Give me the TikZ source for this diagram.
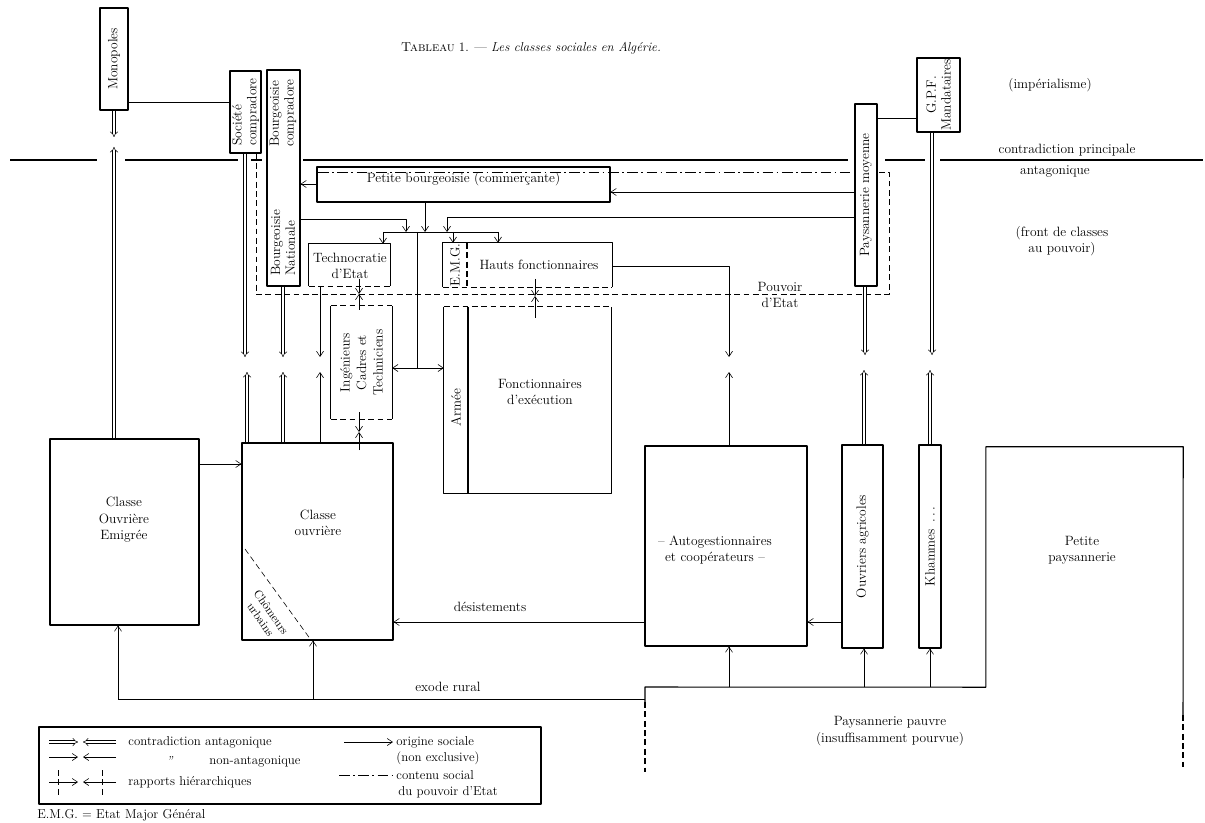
\documentclass[tikz,border=0pt]{standalone}
\usetikzlibrary{arrows.meta,fit}
\begin{document}
\begin{tikzpicture}[x=0.03cm,y=-0.03cm,line join=round,
  lbl/.style={font=\fontsize{11.5}{14}\selectfont,align=center,inner sep=1pt},
  leg/.style={font=\fontsize{11}{13}\selectfont,anchor=west,inner sep=1pt},
  rot/.style={lbl,rotate=90},
  serre/.style={font=\fontsize{11.5}{12.5}\selectfont},
  box/.style={draw,line width=0.9pt,inner sep=0pt},
  zone/.style={inner sep=0pt},
  bord/.style={line width=0.9pt},
  fin/.style={line width=0.5pt},
  tiret/.style={fin,dash pattern=on 5pt off 3pt},
  tiretbord/.style={bord,dash pattern=on 5pt off 3pt},
  tiretpt/.style={fin,dash pattern=on 9pt off 3pt on 1.5pt off 3pt},
  orig/.style={fin,-{Straight Barb[length=4.5pt,width=6pt]}},
  anta/.style={double,double distance=2pt,line width=0.45pt,-{Implies[length=5pt,width=8pt]}},
  front/.style={line width=1.8pt}]
\useasboundingbox (0,0) rectangle (1205,823);
\node[font=\fontsize{11}{13}\selectfont] (titre) at (531,48) {\textsc{Tableau} 1. --- \textit{Les classes sociales en Algérie.}};
% ligne de front
\foreach \a/\b in {10/97,125/238,251/262,303/848,885/925,940/1203}
  \draw[front] (\a,160) -- (\b,160);
% groupes
\node[box,fit={(100,8)(128,110)}] (mono) {};
\node[rot] (tmono) at (mono) {Monopoles};
\node[box,fit={(230,71)(261,153)}] (soc) {};
\node[rot,serre,align=left] (tsoc) at (soc) {Société\\compradore};
\node[box,fit={(267,70)(300,286)}] (bourg) {};
\node[rot,serre,align=left] (tbc) at (283,113) {Bourgeoisie\\compradore};
\node[rot,serre,align=left] (tbn) at (283,243) {Bourgeoisie\\Nationale};
\node[lbl,box,fit={(317,167)(610,202)}] (pb) {Petite bourgeoisie (commerçante)};
\node[zone,fit={(309,244)(390,286)}] (techno) {};
\draw[bord] (techno.south west) |- (techno.north east) -- (techno.south east);
\draw[tiretbord] (techno.south west) -- (techno.south east);
\node[lbl] (ttechno) at (350,266) {Technocratie\\d'Etat};
\node[zone,fit={(443,243)(612,287)}] (hf) {};
\draw[bord] (hf.south west) |- (hf.north east) -- (hf.south east);
\draw[tiretbord] (hf.south west) -- (hf.south east) (467,243) -- (467,287);
\node[rot] (temg) at (455,265) {E.M.G.};
\node[lbl] (thf) at (539,265) {Hauts fonctionnaires};
\node[zone,fit={(331,306)(392,419)}] (ict) {};
\draw[bord] (ict.north west) -- (ict.south west) (ict.north east) -- (ict.south east);
\draw[tiretbord] (ict.north west) -- (ict.north east) (ict.south west) -- (ict.south east);
\node[rot] (tict) at (ict) {Ingénieurs\\Cadres et\\Techniciens};
\node[zone,fit={(444,307)(611,493)}] (arm) {};
\draw[bord] (arm.north west) |- (arm.south east) -- (arm.north east) (468,307) -- (468,493);
\draw[tiretbord] (arm.north west) -- (arm.north east);
\node[rot] (tarm) at (456,408) {Armée};
\node[lbl] (tfe) at (540,392) {Fonctionnaires\\d'exécution};
\node[box,fit={(855,104)(877,286)}] (pm) {};
\node[rot] (tpm) at (pm) {Paysannerie moyenne};
\node[box,fit={(917,58)(960,132)}] (gpf) {};
\node[rot,serre] (tgpf) at (gpf) {G.P.F.\\Mandataires};
\node[box,fit={(50,439)(199,625)}] (coe) {};
\node[lbl] (tcoe) at (124,520) {Classe\\Ouvrière\\Emigrée};
\node[box,fit={(242,443)(393,640)}] (co) {};
\node[lbl] (tco) at (318,523) {Classe\\ouvrière};
\draw[tiret] (245,549) -- (311,640);
\node[lbl,font=\fontsize{10}{11}\selectfont,rotate=-55,inner sep=0pt] (tchom) at (266,616) {Chômeurs\\urbains};
\node[box,fit={(645,446)(807,646)}] (auto) {};
\node[lbl] (tauto) at (715,550) {-- Autogestionnaires\\et coopérateurs --};
\node[box,fit={(842,445)(883,648)}] (oa) {};
\node[rot] (toa) at (oa) {Ouvriers agricoles};
\node[box,fit={(919,445)(941,648)}] (kh) {};
\node[rot] (tkh) at (kh) {Khammes \,.\,.\,.};
\node[zone,fit={(986,447)(1183,687)}] (ppay) {};
\node[lbl] (tppay) at (1082,550) {Petite\\paysannerie};
\draw[bord] (645,702) -- (645,687) -- (ppay.south west) -- (ppay.north west) -- (ppay.north east) -- (1183,715);
\draw[tiretbord] (645,702) -- (645,772) (1183,715) -- (1183,767);
\node[lbl] (tpauvre) at (890,731) {Paysannerie pauvre\\(insuffisamment pourvue)};
% pouvoir d'Etat
\draw[tiret] (256,0 |- soc.south) -- (256,294) -- (889,294) -- (889,172) -- (877,172);
\draw[tiretpt] (318,172) -- (855,172);
\node[lbl] (tpouv) at (780,295) {Pouvoir\\d'Etat};
\node[lbl] (timp) at (1050,85) {(impérialisme)};
\node[lbl] (tcp) at (1067,150) {contradiction principale};
\node[lbl] (tant) at (1055,171) {antagonique};
\node[lbl] (tfront) at (1062,241) {(front de classes\\au pouvoir)};
% liaisons
\draw[fin] (mono.east |- 0,102) -- (soc.west |- 0,102);
\draw[fin] (pm.east |- 0,118) -- (gpf.west |- 0,118);
\draw[anta] (mono.south) -- (114,137);
\draw[anta] (114,0 |- coe.north) -- (114,147);
\draw[anta] (245,0 |- soc.south) -- (245,357);
\draw[anta] (247,0 |- co.north) -- (247,372);
\draw[anta] (283,0 |- bourg.south) -- (283,357);
\draw[anta] (283,0 |- co.north) -- (283,372);
\draw[anta] (865,0 |- pm.south) -- (865,355);
\draw[anta] (864,0 |- oa.north) -- (864,370);
\draw[anta] (932,0 |- gpf.south) -- (932,355);
\draw[anta] (930,0 |- kh.north) -- (930,370);
\draw[orig] (320,0 |- techno.south) -- (320,357);
\draw[orig] (320,0 |- co.north) -- (320,372);
\draw[orig] (hf.east |- 0,266) -| (729,357);
\draw[orig] (729,0 |- auto.north) -- (729,372);
\draw[orig] (pb.west |- 0,184) -- (bourg.east |- 0,184);
\draw[orig] (pm.west |- 0,192) -- (pb.east |- 0,192);
\draw[orig] (pm.west |- 0,217) -| (447,232);
\draw[orig] (bourg.east |- 0,219) -| (406,232);
\draw[orig] (425,0 |- pb.south) -- (425,232);
\draw[fin] (383,232) -- (498,232);
\foreach \x/\n in {383/techno,453/hf,498/hf}
  \draw[orig] (\x,232) -- (\x,0 |- \n.north);
\draw[fin] (417,232) -- (417,368);
\draw[orig] (417,368) -- (ict.east |- 0,368);
\draw[orig] (417,368) -- (arm.west |- 0,368);
\foreach \x/\a/\m/\b in {359/279/294/310,359/412/432/450,535/279/296/318}{
  \draw[orig] (\x,\a) -- (\x,\m);
  \draw[orig] (\x,\b) -- (\x,\m);}
\draw[orig] (coe.east |- 0,464) -- (co.west |- 0,464);
\draw[orig] (auto.west |- 0,622) -- (co.east |- 0,622);
\node[lbl] (tdes) at (490,607) {désistements};
\draw[orig] (oa.west |- 0,622) -- (auto.east |- 0,622);
\draw[fin] (118,699) -- (645,699);
\draw[orig] (118,699) -- (118,0 |- coe.south);
\draw[orig] (313,699) -- (313,0 |- co.south);
\node[lbl] (texode) at (448,687) {exode rural};
\foreach \x/\n in {729/auto,864/oa,930/kh}
  \draw[orig] (\x,687) -- (\x,0 |- \n.south);
% legende
\node[box,fit={(39,727)(541,804)}] (legende) {};
\draw[anta] (49,742) -- (78,742);
\draw[anta] (116,742) -- (83,742);
\draw[orig] (49,757) -- (78,757);
\draw[orig] (116,757) -- (83,757);
\draw[orig] (49,782) -- (78,782);
\draw[orig] (116,782) -- (83,782);
\draw[tiret] (58,770) -- (58,795) (102,770) -- (102,795);
\node[leg] (l1) at (127,742) {contradiction antagonique};
\node[leg] (l2) at (165,761) {\textit{''}};
\node[leg] (l3) at (208,762) {non-antagonique};
\node[leg] (l4) at (127,782) {rapports hiérarchiques};
\draw[orig] (344,742) -- (393,742);
\node[leg] (l5) at (395,742) {origine sociale};
\node[leg] (l6) at (395,758) {(non exclusive)};
\draw[tiretpt] (339,775) -- (395,775);
\node[leg] (l7) at (395,775) {contenu social};
\node[leg] (l8) at (397,792) {du pouvoir d'Etat};
\node[leg] (emg) at (36,815) {E.M.G. = Etat Major Général};
\end{tikzpicture}
\end{document}
